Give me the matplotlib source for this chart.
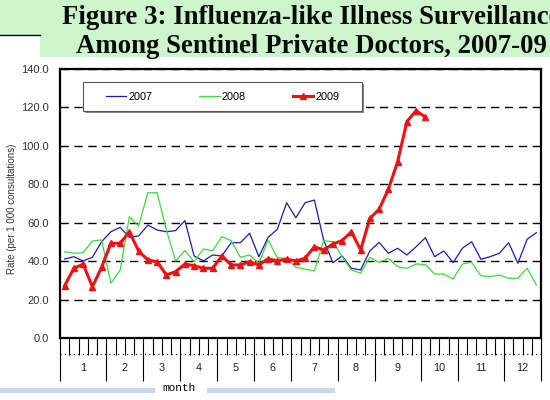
import numpy as np
import matplotlib.pyplot as plt
from matplotlib.patches import Rectangle
from matplotlib.lines import Line2D

plt.rcParams['font.family'] = ['Liberation Sans', 'DejaVu Sans']

# weekly ILI rate per 1000 consultations
rate_2007 = [41.1, 42.3, 40.1, 42.0, 50.1, 55.3, 57.6, 52.4, 53.1, 58.8, 56.2, 55.3, 55.9, 61.1,
             42.7, 40.1, 43.2, 42.7, 49.6, 49.6, 54.5, 42.3, 52.4, 56.6, 70.4, 62.6, 70.4, 71.8,
             51.0, 39.2, 42.7, 36.3, 35.4, 45.3, 49.8, 44.1, 46.7, 43.2, 47.5, 52.2,
             42.3, 45.3, 39.2, 46.7, 50.1, 41.0, 42.3, 44.1, 49.6, 38.9, 51.4, 54.8]
rate_2008 = [44.9, 44.1, 44.4, 50.5, 51.0, 28.5, 35.4, 63.1, 58.3, 75.6, 75.6, 56.2, 40.1, 45.5,
             39.7, 46.3, 45.4, 52.7, 50.7, 42.0, 43.2, 38.9, 51.0, 41.8, 41.5, 36.8, 35.8, 34.9,
             50.7, 50.1, 42.3, 35.4, 33.7, 42.0, 39.4, 41.5, 37.1, 36.3, 38.5, 38.2,
             33.3, 33.3, 30.7, 38.5, 39.4, 32.4, 31.9, 32.8, 31.1, 31.1, 36.3, 27.6]
rate_2009 = [27.2, 36.3, 38.4, 26.7, 36.8, 49.3, 49.3, 55.3, 45.3, 40.6, 39.6, 32.8, 34.5, 38.5,
             37.6, 36.3, 36.3, 42.7, 38.0, 38.0, 39.7, 38.0, 41.3, 40.1, 41.0, 40.1, 41.5,
             47.5, 45.8, 48.9, 50.7, 55.3, 45.8, 62.3, 67.0, 77.4, 91.8, 112.6, 118.3, 114.9]

# number of weeks in each month
month_weeks = [5, 4, 4, 4, 4, 4, 5, 4, 5, 4, 5, 4]
month_labels = ['1', '2', '3', '4', '5', '6', '7', '8', '9', '10', '11', '12']
y_ticks = [0, 20, 40, 60, 80, 100, 120, 140]

W, H = 550, 400
fig = plt.figure(figsize=(5.5, 4), dpi=100)

# title box
fig.add_artist(Rectangle((0, 1 - 35 / H), 40 / W, 35 / H, transform=fig.transFigure,
                         facecolor='#ccf5cc', edgecolor='none'))
fig.add_artist(Rectangle((40 / W, 1 - 57 / H), 1 - 40 / W, 57 / H, transform=fig.transFigure,
                         facecolor='#ccf5cc', edgecolor='none'))
fig.add_artist(Line2D([0, 40 / W], [1 - 35 / H, 1 - 35 / H], transform=fig.transFigure,
                      color='black', lw=1))
fig.text(311 / W, 1 - 24 / H, 'Figure 3: Influenza-like Illness Surveillance', ha='center',
         va='baseline', fontsize=19.3, fontweight='bold', family=['Liberation Serif'], color='#0a0a0a')
fig.text(311 / W, 1 - 53 / H, 'Among Sentinel Private Doctors, 2007-09', ha='center',
         va='baseline', fontsize=19.3, fontweight='bold', family=['Liberation Serif'], color='#0a0a0a')

ax = fig.add_axes([60 / W, 62 / H, 481 / W, 269 / H])
x1 = np.arange(len(rate_2007)) + 0.5
x2 = np.arange(len(rate_2008)) + 0.5
x3 = np.arange(len(rate_2009)) + 0.5
l1, = ax.plot(x1, rate_2007, color='#1c1cae', lw=0.9, label='2007')
l2, = ax.plot(x2, rate_2008, color='#3fd83f', lw=0.9, label='2008')
l3, = ax.plot(x3, rate_2009, color='#ee1111', lw=2.2, marker='^', markersize=4.5, label='2009')

ax.set_xlim(0, 52)
ax.set_ylim(0, 140)
ax.set_yticks(y_ticks)
ax.set_yticklabels(['%.1f' % v for v in y_ticks])
ax.tick_params(axis='y', length=0, pad=8, labelsize=8, labelcolor='#333333')
ax.yaxis.grid(True, color='black', lw=1, linestyle=(0, (6, 4)))
ax.set_axisbelow(True)
for s in ax.spines.values():
    s.set_linewidth(1.6)

bounds = np.concatenate([[0], np.cumsum(month_weeks)])
ax.set_xticks(bounds)
ax.set_xticks(np.arange(53), minor=True)
ax.tick_params(axis='x', which='major', length=31, width=0.8, labelbottom=False)
ax.tick_params(axis='x', which='minor', length=12, width=0.8)
centers = (bounds[:-1] + bounds[1:]) / 2
for c, lab in zip(centers, month_labels):
    ax.text(c, -0.112, lab, transform=ax.get_xaxis_transform(), ha='center', va='center',
            fontsize=7.8, color='#222222')
ax.plot([0, 52], [-0.06, -0.06], transform=ax.get_xaxis_transform(), clip_on=False,
        color='black', lw=0.8, linestyle=(0, (1, 3)))

# legend frame with shadow
lx, ly, lw_, lh = 83 / W, 1 - 111 / H, 279 / W, 29 / H
fig.add_artist(Rectangle((lx + 2 / W, ly - 2 / H), lw_, lh, transform=fig.transFigure,
                         facecolor='#888888', edgecolor='none'))
fig.add_artist(Rectangle((lx, ly), lw_, lh, transform=fig.transFigure,
                         facecolor='white', edgecolor='#555555', lw=0.8))
fig.legend(handles=[l1, l2, l3], loc='center', bbox_to_anchor=(lx + lw_ / 2, ly + lh / 2),
           ncol=3, frameon=False, fontsize=7.8, handlelength=1.9, handletextpad=0.2,
           columnspacing=4.3)

fig.text(12 / W, 1 - 209 / H, 'Rate (per 1 000 consultations)', rotation=90, ha='center',
         va='center', fontsize=7, color='#333333')

# bottom strip with axis title
fig.add_artist(Rectangle((0, 1 - 393 / H), 155 / W, 5 / H, transform=fig.transFigure,
                         facecolor='#c8d8f2', edgecolor='none'))
fig.add_artist(Rectangle((207 / W, 1 - 393 / H), 128 / W, 5 / H, transform=fig.transFigure,
                         facecolor='#c8d8f2', edgecolor='none'))
fig.text(179 / W, 1 - 388 / H, 'month', ha='center', va='center', fontsize=8,
         family=['Liberation Mono'])

fig.savefig('out.png', dpi=100)
